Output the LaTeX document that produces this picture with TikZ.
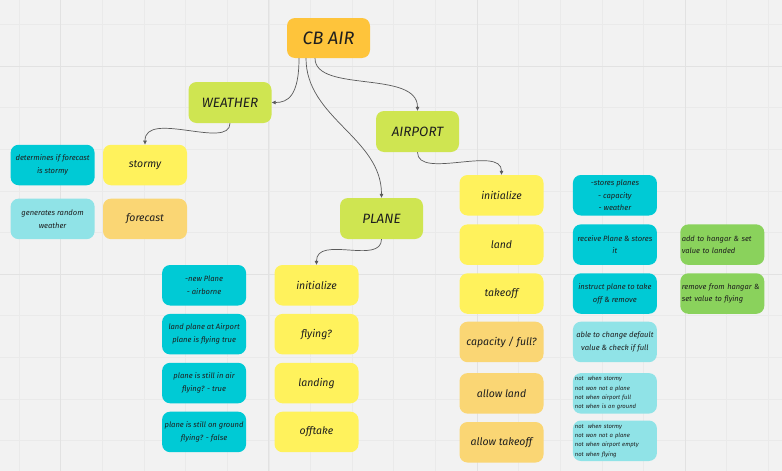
\documentclass[tikz,border=0pt]{standalone}
\usepackage{fontspec}
\setmainfont{Fira Sans}
\usetikzlibrary{arrows.meta, positioning}
\usepackage{xcolor}

\definecolor{bgc}{HTML}{F2F2F2}
\definecolor{gridc}{HTML}{EAEAEA}
\definecolor{gridmajc}{HTML}{E2E2E2}
\definecolor{inkc}{HTML}{1E1E1E}
\definecolor{linec}{HTML}{5A5A5A}
\definecolor{rootc}{HTML}{FEC43B}
\definecolor{topicc}{HTML}{CFE551}
\definecolor{taskc}{HTML}{FFF25C}
\definecolor{checkc}{HTML}{FAD674}
\definecolor{notec}{HTML}{00CAD5}
\definecolor{hintc}{HTML}{90E3E7}
\definecolor{hangarc}{HTML}{8AD25C}

\begin{document}
\begin{tikzpicture}[
            x=1pt, y=-1pt,
            box/.style={rounded corners=8pt, align=center, minimum width=84pt, minimum height=40.5pt, inner sep=2pt, text=inkc},
            root/.style={box, fill=rootc, minimum width=83pt, minimum height=40pt, font=\itshape\fontsize{18}{22}\selectfont},
            topic/.style={box, fill=topicc, minimum width=83pt, minimum height=41pt, font=\itshape\fontsize{13.5}{16}\selectfont},
            task/.style={box, fill=taskc, font=\itshape\fontsize{10.5}{13}\selectfont},
            checkbox/.style={box, fill=checkc, font=\itshape\fontsize{10.5}{13}\selectfont},
            note/.style={box, fill=notec, font=\itshape\fontsize{7.6}{12.7}\selectfont},
            hint/.style={box, fill=hintc, font=\itshape\fontsize{7.6}{12.7}\selectfont},
            rulebox/.style={hint, align=left, text width=80pt, font=\itshape\fontsize{5.9}{9.3}\selectfont},
            hangar/.style={box, fill=hangarc, align=left, inner xsep=1.5pt, text width=81pt, font=\itshape\fontsize{7.5}{12.7}\selectfont},
            arrow/.style={-{Triangle[length=4pt, width=3.5pt]}, draw=linec, line width=0.7pt},
            gridline/.style={draw=gridc, line width=0.5pt},
            gridmajor/.style={draw=gridmajc, line width=0.8pt}
        ]
            % canvas
            \useasboundingbox (0,0) rectangle (782,471);
            \fill[bgc] (0,0) rectangle (782,471);
            \foreach \i in {0,...,18} \draw[gridline] (19+41.63*\i,0) -- (19+41.63*\i,471);
            \foreach \i in {0,...,11} \draw[gridline] (0,24.3+41.63*\i) -- (782,24.3+41.63*\i);
            \foreach \i in {0,...,3} \draw[gridmajor] (60.7+208.15*\i,0) -- (60.7+208.15*\i,471);
            \foreach \i in {0,1} \draw[gridmajor] (0,66+208.15*\i) -- (782,66+208.15*\i);

            % main topics
            \node[root] (cbair) at (328.5,38) {CB AIR};
            \node[topic] (weather) at (230,102.5) {WEATHER};
            \node[topic] (airport) at (417.5,131.5) {AIRPORT};
            \node[topic] (plane) at (381.5,218.5) {PLANE};

            % weather
            \node[task] (stormy) at (145,165) {stormy};
            \node[checkbox, below=13pt of stormy] (forecast) {forecast};
            \node[note, left=8pt of stormy] (isstormy) {determines if forecast\\is stormy};
            \node[hint, left=8pt of forecast] (randweather) {generates random\\weather};

            % airport
            \node[task] (ainit) at (501.5,195.25) {initialize};
            \node[task, below=8.5pt of ainit] (aland) {land};
            \node[task, below=8pt of aland] (atakeoff) {takeoff};
            \node[checkbox, below=7.5pt of atakeoff] (capacity) {capacity / full?};
            \node[checkbox, below=10.5pt of capacity] (allowland) {allow land};
            \node[checkbox, below=8pt of allowland] (allowtakeoff) {allow takeoff};
            \node[note, right=29pt of ainit] (stores) {-stores planes\\- capacity\\- weather};
            \node[note, right=29pt of aland] (receive) {receive Plane \& stores\\it};
            \node[note, right=29pt of atakeoff] (instruct) {instruct plane to take\\off \& remove};
            \node[hint, right=29pt of capacity] (changedefault) {able to change default\\value \& check if full};
            \node[rulebox, right=29pt of allowland] (notland) {not\ \ when stormy\\not won not a plane\\not when airport full\\not when is on ground};
            \node[rulebox, right=29pt of allowtakeoff, yshift=1.5pt] (nottakeoff) {not\ \ when stormy\\not won not a plane\\not when airport empty\\not when flying};
            \node[hangar, right=23pt of receive] (addhangar) {add to hangar \& set\\value to landed};
            \node[hangar, right=23pt of instruct] (remhangar) {remove from hangar \&\\set value to flying};

            % plane
            \node[task] (pinit) at (316.5,285.25) {initialize};
            \node[task, below=8pt of pinit] (flying) {flying?};
            \node[task, below=8pt of flying] (landing) {landing};
            \node[task, below=8pt of landing] (offtake) {offtake};
            \node[note, left=28pt of pinit] (newplane) {-new Plane\\- airborne};
            \node[note, left=28pt of flying] (landplane) {land plane at Airport\\plane is flying true};
            \node[note, left=28pt of landing] (inair) {plane is still in air\\flying? - true};
            \node[note, left=28pt of offtake] (onground) {plane is still on ground\\flying? - false};

            % connectors
            \draw[arrow] ([xshift=-29.5pt]cbair.south) .. controls +(0,38) and +(16,0) .. (weather.east);
            \draw[arrow] ([xshift=-22.5pt]cbair.south) .. controls +(0,60) and +(0,-60) .. (plane.north);
            \draw[arrow] ([xshift=-13.5pt]cbair.south) .. controls +(0,35) and +(0,-41) .. (airport.north);
            \draw[arrow] (weather.south) .. controls +(0,27) and +(0,-35) .. (stormy.north);
            \draw[arrow] (airport.south) .. controls +(0,28) and +(0,-30) .. (ainit.north);
            \draw[arrow] (plane.south) .. controls +(0,26) and +(0,-30) .. (pinit.north);
        \end{tikzpicture}
\end{document}
